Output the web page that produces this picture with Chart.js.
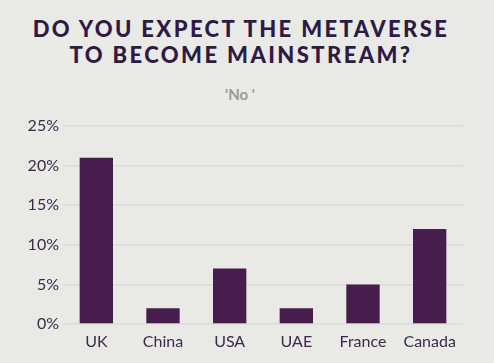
<!DOCTYPE html>
<html><head><meta charset="utf-8">
<script src="https://cdn.jsdelivr.net/npm/chart.js@4/dist/chart.umd.min.js"></script>
<style>
html,body{margin:0;padding:0;background:#e9eae5;width:494px;height:363px;overflow:hidden;}
#wrap{position:relative;width:494px;height:363px;}
#title{position:absolute;left:0;top:16px;width:482px;text-align:center;font-family:Lato,sans-serif;font-weight:900;font-size:22px;line-height:26px;letter-spacing:2.4px;color:#2e1a45;}
#sub{position:absolute;left:0;top:85px;width:480px;text-align:center;font-family:Lato,sans-serif;font-weight:700;font-size:15px;color:#9b9a90;}
canvas{position:absolute;left:0;top:0;}
</style></head>
<body><div id="wrap">
<div id="title">DO YOU EXPECT THE METAVERSE<br>TO BECOME MAINSTREAM?</div>
<div id="sub">'No '</div>
<canvas id="c" width="494" height="363"></canvas>
</div>
<script>
const categories = ['UK','China','USA','UAE','France','Canada'];
const noValues = [21, 2, 7, 2, 5, 12];
const yTicks = [0, 5, 10, 15, 20, 25];

new Chart(document.getElementById('c'), {
  type: 'bar',
  data: { labels: categories, datasets: [{ data: noValues, backgroundColor: '#461d4c', barPercentage: 0.5, categoryPercentage: 1.0 }] },
  options: {
    responsive: false, animation: false,
    layout: { padding: { top: 126, right: 31, left: 0, bottom: 0 } },
    plugins: { legend: { display: false }, tooltip: { enabled: false } },
    scales: {
      x: {
        grid: { display: false }, border: { display: false },
        ticks: { color: '#3a2a4c', font: { family: 'Lato', size: 16 }, padding: 0 },
        afterFit: s => { s.height = 39; }
      },
      y: {
        min: 0, max: 25,
        afterBuildTicks: s => { s.ticks = yTicks.map(v => ({ value: v })); },
        grid: { color: '#d9dbd5', drawTicks: false, lineWidth: 1.5 }, border: { display: false },
        ticks: { color: '#3a2a4c', font: { family: 'Lato', size: 16 }, padding: 4, callback: v => v + '%' },
        afterFit: s => { s.width = 63; }
      }
    }
  }
});
</script>
</body></html>
